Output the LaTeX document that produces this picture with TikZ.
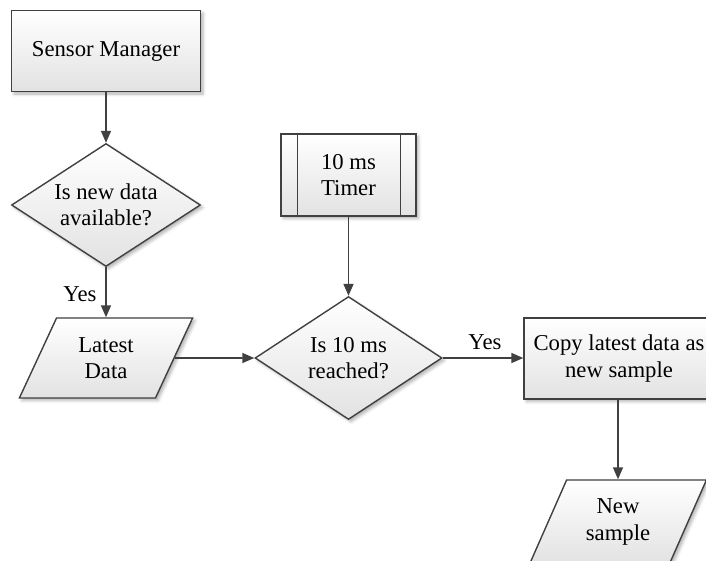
\documentclass[tikz,border=0pt]{standalone}
\usepackage{fontspec}
\newfontfamily\timesfam{Liberation Serif}
\usetikzlibrary{shapes.geometric,arrows.meta,shadows.blur}
\definecolor{edge}{HTML}{404040}
\definecolor{fillbot}{HTML}{E2E2E2}
\begin{document}
\begin{tikzpicture}[x=1pt,y=-1pt,
  txt/.style={font=\timesfam\fontsize{22.7}{26.5}\selectfont,align=center},
  base/.style={txt,draw=edge,line width=1.4pt,top color=white,bottom color=fillbot,
    blur shadow={shadow xshift=2.5pt,shadow yshift=-2.5pt,shadow blur radius=3pt,shadow opacity=30},
    inner sep=0pt},
  procbox/.style={base,rectangle,minimum width=#1,minimum height=81pt},
  decision/.style={base,diamond,shape aspect=1.52,minimum width=#1,minimum height=123pt},
  iobox/.style={base,trapezium,trapezium left angle=63.4,trapezium right angle=116.6,
    trapezium stretches=true,minimum width=175pt,minimum height=80pt},
  arrow/.style={draw=edge,line width=1.6pt,-{Triangle[length=12pt,width=10pt]}},
  lbl/.style={txt,inner sep=0pt}]
\useasboundingbox (0,0) rectangle (706,560);
\clip (0,0) rectangle (706,560);

% process steps
\node[procbox=189pt] (sm) at (106,51) {Sensor Manager};
\node[decision=189pt] (d1) at (106,205) {Is new data\\available?};
\node[iobox] (ld) at (106,358) {Latest\\Data};
\node[procbox=135pt,minimum height=82pt] (tm) at (348.5,175) {10 ms\\Timer};
\draw[draw=edge,line width=1.4pt]
  ([xshift=17pt]tm.north west) -- ([xshift=17pt]tm.south west)
  ([xshift=-16pt]tm.north east) -- ([xshift=-16pt]tm.south east);
\node[decision=187pt] (d2) at (348.5,358) {Is 10 ms\\reached?};
\node[procbox=190pt] (cp) at (619,358.5) {Copy latest data as\\new sample};
\node[iobox,minimum width=177pt,minimum height=84pt] (ns) at (618,522) {New\\sample};

% branch labels
\node[lbl] (y1) at (80,294) {Yes};
\node[lbl] (y2) at (485,342) {Yes};

% connectors
\draw[arrow] (sm) -- (d1);
\draw[arrow] (d1) -- (ld);
\draw[arrow] (ld) -- (d2);
\draw[arrow] (tm) -- (d2);
\draw[arrow] (d2.east) -- (d2.east -| cp.west);
\draw[arrow] (cp.south -| ns.north) -- (ns.north);
\end{tikzpicture}
\end{document}
